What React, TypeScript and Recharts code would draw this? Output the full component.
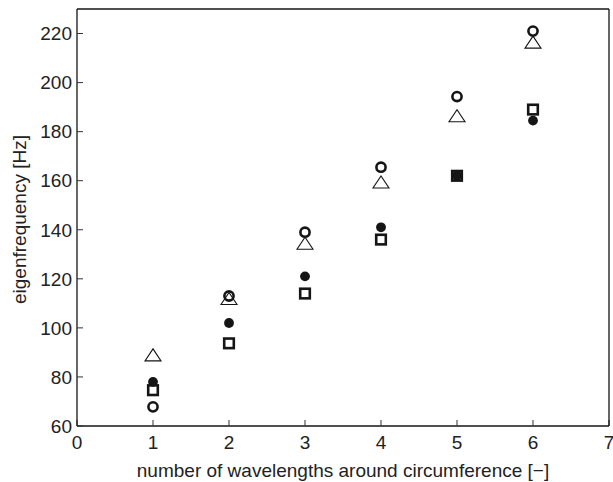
import {
  ScatterChart,
  Scatter,
  XAxis,
  YAxis,
  ZAxis,
} from "recharts";

// mode number (wavelengths around circumference)
const modes = [1, 2, 3, 4, 5, 6];

// eigenfrequencies [Hz], one list per marker
const openTriangle = [89, 112, 134.5, 159.5, 186.5, 216.5];
const openCircle = [67.8, 113, 139, 165.5, 194.3, 221];
const filledCircle = [78, 102, 121, 141, 162, 184.5];
const openSquare = [74.6, 93.7, 114, 136, 162, 189];

const xTicks = [0, 1, 2, 3, 4, 5, 6, 7];
const yTicks = [60, 80, 100, 120, 140, 160, 180, 200, 220];

const toPoints = (vals: number[]) =>
  modes.map((m, i) => ({ mode: m, freq: vals[i] }));

const INK = "#151515";
const FONT = "'Liberation Sans', Arial, sans-serif";

const Triangle = ({ cx, cy }: any) => (
  <polygon
    points={`${cx - 8},${cy + 6} ${cx + 8},${cy + 6} ${cx},${cy - 6}`}
    fill="none"
    stroke={INK}
    strokeWidth={1.1}
  />
);

const Ring = ({ cx, cy }: any) => (
  <circle cx={cx} cy={cy} r={4.6} fill="none" stroke={INK} strokeWidth={2.6} />
);

const Dot = ({ cx, cy }: any) => <circle cx={cx} cy={cy} r={4.9} fill={INK} />;

const Box = ({ cx, cy }: any) => (
  <rect
    x={cx - 4.8}
    y={cy - 4.8}
    width={9.6}
    height={9.6}
    fill="none"
    stroke={INK}
    strokeWidth={2.6}
  />
);

const YTitle = ({ viewBox }: any) => {
  const cx = 19;
  const cy = viewBox.y + viewBox.height / 2 + 2;
  return (
    <text
      x={cx}
      y={cy}
      transform={`rotate(-90 ${cx} ${cy})`}
      textAnchor="middle"
      dominantBaseline="central"
      fontFamily={FONT}
      fontSize={19}
      fill="#222"
    >
      eigenfrequency [Hz]
    </text>
  );
};

const XTitle = ({ viewBox }: any) => (
  <text
    x={viewBox.x + viewBox.width / 2}
    y={viewBox.y + 51}
    textAnchor="middle"
    fontFamily={FONT}
    fontSize={19}
    fill="#222"
  >
    number of wavelengths around circumference [−]
  </text>
);

const tickStyle = { fontSize: 19, fontFamily: FONT, fill: "#222" };
const axisLine = { stroke: INK, strokeWidth: 1.3 };
const tickLine = { stroke: "#333", strokeWidth: 1 };

export default function App() {
  return (
    <div style={{ position: "absolute", left: 0, top: 0, background: "#fff" }}>
      <ScatterChart
        width={613}
        height={482}
        margin={{ top: 0, right: 0, bottom: 0, left: 0 }}
      >
        <XAxis
          xAxisId="b"
          type="number"
          dataKey="mode"
          domain={[0, 7]}
          ticks={xTicks}
          height={56}
          tick={tickStyle}
          tickSize={-6}
          tickMargin={16}
          axisLine={axisLine}
          tickLine={tickLine}
          interval={0}
          label={<XTitle />}
        />
        <XAxis
          xAxisId="t"
          orientation="top"
          type="number"
          dataKey="mode"
          domain={[0, 7]}
          ticks={xTicks}
          height={9}
          tickSize={-6}
          tickFormatter={() => ""}
          axisLine={axisLine}
          tickLine={tickLine}
          interval={0}
        />
        <YAxis
          yAxisId="l"
          type="number"
          dataKey="freq"
          domain={[60, 230]}
          ticks={yTicks}
          width={77}
          tick={tickStyle}
          tickSize={-6}
          tickMargin={11}
          axisLine={axisLine}
          tickLine={tickLine}
          interval={0}
          label={<YTitle />}
        />
        <YAxis
          yAxisId="r"
          orientation="right"
          type="number"
          dataKey="freq"
          domain={[60, 230]}
          ticks={yTicks}
          width={4}
          tickSize={-6}
          tickFormatter={() => ""}
          axisLine={axisLine}
          tickLine={tickLine}
          interval={0}
        />
        <ZAxis range={[60, 60]} />
        <Scatter
          data={toPoints(openTriangle)}
          xAxisId="b"
          yAxisId="l"
          shape={<Triangle />}
          isAnimationActive={false}
        />
        <Scatter
          data={toPoints(openCircle)}
          xAxisId="b"
          yAxisId="l"
          shape={<Ring />}
          isAnimationActive={false}
        />
        <Scatter
          data={toPoints(filledCircle)}
          xAxisId="b"
          yAxisId="l"
          shape={<Dot />}
          isAnimationActive={false}
        />
        <Scatter
          data={toPoints(openSquare)}
          xAxisId="b"
          yAxisId="l"
          shape={<Box />}
          isAnimationActive={false}
        />
      </ScatterChart>
    </div>
  );
}
